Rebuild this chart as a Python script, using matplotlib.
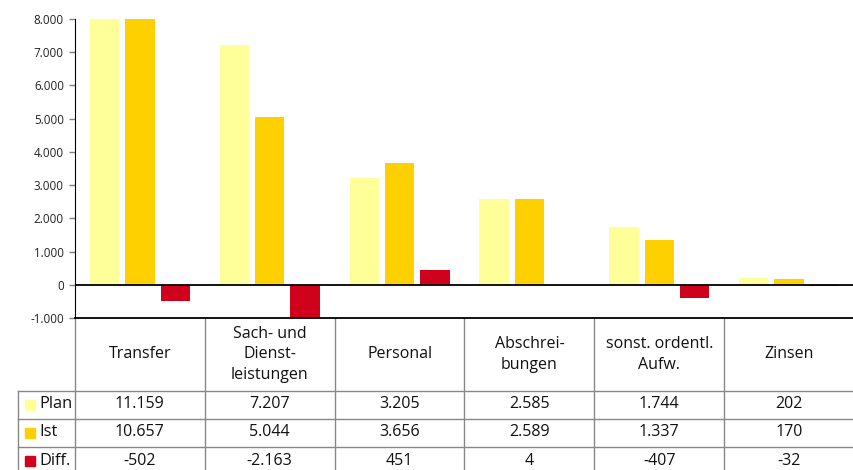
import matplotlib.pyplot as plt
from matplotlib.transforms import blended_transform_factory
from matplotlib.patches import Rectangle

plt.rcParams["font.family"] = ["Open Sans", "DejaVu Sans"]

# --- data ---
categories = ["Transfer", "Sach- und\nDienst-\nleistungen", "Personal",
              "Abschrei-\nbungen", "sonst. ordentl.\nAufw.", "Zinsen"]
plan = [11159, 7207, 3205, 2585, 1744, 202]
ist = [10657, 5044, 3656, 2589, 1337, 170]
diff = [-502, -2163, 451, 4, -407, -32]
row_names = ["Plan", "Ist", "Diff."]
colors = ["#FFFF99", "#FFD000", "#D0021B"]


def de_fmt(v):
    return f"{v:,.0f}".replace(",", ".")


W, H = 854, 470
fig = plt.figure(figsize=(W / 100, H / 100), dpi=100)
# axes in pixel units -> figure fraction
left, top, bottom, right = 75, 19, 318, 854
ax = fig.add_axes([left / W, 1 - bottom / H, (right - left) / W, (bottom - top) / H])

x = list(range(len(categories)))
bw = 0.225
off = 0.272
for i, (vals, c) in enumerate(zip([plan, ist, diff], colors)):
    ax.bar([xi + (i - 1) * off for xi in x], vals, width=bw, color=c, zorder=2)

ax.set_xlim(-0.5, len(categories) - 0.5)
ax.set_ylim(-1000, 8000)
ax.set_yticks(range(-1000, 8001, 1000))
ax.set_yticklabels([de_fmt(v) for v in range(-1000, 8001, 1000)])
ax.tick_params(axis="y", labelsize=8.4, length=4, width=1, color="#808080",
               labelcolor="#222222", pad=4)
ax.set_xticks([])
ax.axhline(0, color="black", lw=1.3, zorder=3)
for s in ["top", "right"]:
    ax.spines[s].set_visible(False)
ax.spines["left"].set_color("black")
ax.spines["bottom"].set_color("black")
ax.spines["bottom"].set_linewidth(1.3)

# --- table below the axes (x in data units, y in pixels via figure fraction) ---
trans = blended_transform_factory(ax.transData, fig.transFigure)


def fy(py):
    return 1 - py / H


grid = "#888888"
header_bot = 391
row_bounds = [391, 419, 447, 475]
# vertical lines between columns
for k in range(len(categories)):
    xb = k - 0.5
    ax.plot([xb, xb], [fy(bottom), fy(475)], color=grid, lw=1, transform=trans,
            clip_on=False)
# horizontal row lines
for yb in row_bounds[:-1]:
    fig.add_artist(plt.Line2D([18 / W, 1], [fy(yb), fy(yb)], color=grid, lw=1))
# left border of row-label column
fig.add_artist(plt.Line2D([18 / W, 18 / W], [fy(391), fy(475)], color=grid, lw=1))

# header texts
for k, cat in enumerate(categories):
    ax.text(k, fy((bottom + header_bot) / 2), cat, transform=trans, ha="center",
            va="center", fontsize=11.5, color="#111111", linespacing=1.35)

# rows
for r, (name, vals, c) in enumerate(zip(row_names, [plan, ist, diff], colors)):
    yc = (row_bounds[r] + row_bounds[r + 1]) / 2 - 0.5
    if r == 2:
        yc = 461
    fig.add_artist(Rectangle((25 / W, fy(yc + 5)), 10 / W, 10 / H, color=c,
                             transform=fig.transFigure))
    fig.text(39 / W, fy(yc), name, ha="left", va="center", fontsize=11.8,
             color="#111111")
    for k, v in enumerate(vals):
        ax.text(k, fy(yc), de_fmt(v), transform=trans, ha="center", va="center",
                fontsize=11.5, color="#111111")

fig.savefig("out.png", dpi=100)
